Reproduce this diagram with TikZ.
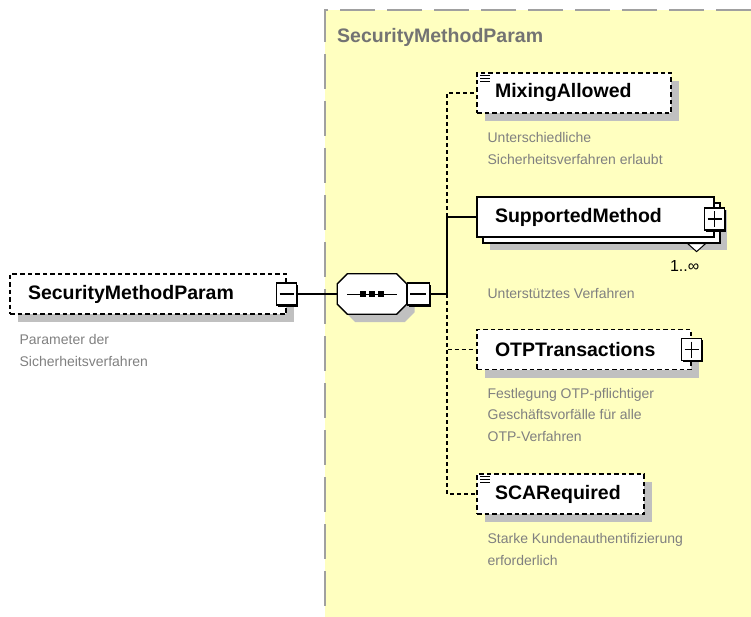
\documentclass[tikz,border=0pt]{standalone}
\usepackage{fontspec}
\setmainfont{Liberation Sans}
\usetikzlibrary{positioning,calc,shadows}
\definecolor{cY}{HTML}{FFFFC0}
\definecolor{cS}{HTML}{C0C0C0}
\definecolor{cG}{HTML}{808080}
\definecolor{cL}{HTML}{A0A0A0}
\tikzset{
  shade8/.style={drop shadow={fill=cS,opacity=1,shadow xshift=8pt,shadow yshift=-8pt}},
  elembase/.style={draw=black,line width=1.2pt,fill=white,minimum height=40pt,
    inner xsep=18pt,inner ysep=0pt,align=left,font=\fontsize{19.5}{22}\selectfont\bfseries},
  opt/.style={elembase,shade8,dash pattern=on 4.5pt off 3pt},
  req/.style={elembase,drop shadow={fill=cS,opacity=1,shadow xshift=13pt,shadow yshift=-13pt},
    copy shadow={shadow xshift=6pt,shadow yshift=-6pt,fill=white,draw=black,line width=1.2pt}},
  togbox/.style={draw=black,line width=1.2pt,fill=white,minimum width=20pt,minimum height=22pt,inner sep=0pt,
    general shadow={fill=black,shadow xshift=1.6pt,shadow yshift=-1.6pt}},
  minusbox/.style={togbox,path picture={
    \draw[line width=1.2pt] ([xshift=3pt]path picture bounding box.west) -- ([xshift=-3pt]path picture bounding box.east);}},
  plusbox/.style={togbox,path picture={
    \draw[line width=1.2pt] ([xshift=3pt]path picture bounding box.west) -- ([xshift=-3pt]path picture bounding box.east);
    \draw[line width=1.2pt] ([yshift=-3pt]path picture bounding box.north) -- ([yshift=3pt]path picture bounding box.south);}},
  seqbox/.style={minimum width=69pt,minimum height=40pt,inner sep=0pt},
  seqline/.style={draw=black,line width=1.3pt,fill=white,shade8},
  desc/.style={inner sep=0pt,align=left,text=cG,font=\fontsize{14}{21.5}\selectfont},
  grptitle/.style={inner sep=0pt,text=cG!90!black,font=\fontsize{19.5}{22}\selectfont\bfseries},
  grpline/.style={cL,line width=1.5pt,dash pattern=on 35pt off 12pt},
  conn/.style={black,line width=1.2pt},
  optconn/.style={conn,dash pattern=on 4pt off 3pt},
  mult/.style={inner sep=0pt,font=\fontsize{16}{18}\selectfont},
}

\begin{document}
\begin{tikzpicture}[x=1pt,y=-1pt]
  \useasboundingbox (0,0) rectangle (751,617);
  % group area
  \fill[cY] (325,10) rectangle (751,617);
  \draw[grpline] (751,10) -| (325,617);
  \node[grptitle,anchor=west] (title) at (337,37) {SecurityMethodParam};

  % root element
  \node[opt,text width=240pt] (root) at (148,294) {SecurityMethodParam};
  \node[minusbox] (rootTog) at (root.east) {};
  \node[desc,below right=20pt and 10pt of root.south west] (rootDesc) {Parameter der\\Sicherheitsverfahren};

  % sequence
  \node[seqbox] (seq) at (372,294) {};
  \draw[seqline] ([xshift=10pt]seq.north west) -- ([xshift=-10pt]seq.north east)
    -- ([yshift=-10pt]seq.north east) -- ([yshift=10pt]seq.south east)
    -- ([xshift=-10pt]seq.south east) -- ([xshift=10pt]seq.south west)
    -- ([yshift=10pt]seq.south west) -- ([yshift=-10pt]seq.north west) -- cycle;
  \node[minusbox,anchor=west,minimum width=22pt] (seqTog) at (seq.east) {};
  \draw[line width=1pt] ([xshift=10pt]seq.west) -- ([xshift=-10pt]seq.east);
  \foreach \dx in {-9pt,0pt,9pt}{
    \fill ([xshift=\dx]seq.center) +(-3pt,-3pt) rectangle +(3pt,3pt);
  }
  \coordinate (bus) at (447,294);

  % children
  \node[opt,text width=158pt] (mix) at (574,93) {MixingAllowed};
  \node[desc,below right=19pt and 11pt of mix.south west] (mixDesc) {Unterschiedliche\\Sicherheitsverfahren erlaubt};

  \node[req,text width=201pt] (sup) at (595.5,217) {SupportedMethod};
  \node[plusbox] (supTog) at ([yshift=-2pt]sup.east) {};
  \draw[line width=1pt,fill=white] ([xshift=-27pt,yshift=-6pt]sup.south east) -- ++(18pt,0pt) -- ++(-9pt,-8pt) -- cycle;
  \node[mult] (supMult) at ([xshift=-30pt,yshift=-28pt]sup.south east) {1..∞};
  \node[desc,below right=51pt and 11pt of sup.south west] (supDesc) {Unterstütztes Verfahren};

  \node[opt,text width=178pt] (otp) at (584,349.5) {OTPTransactions};
  \node[plusbox] (otpTog) at (otp.east) {};
  \node[desc,below right=18pt and 11pt of otp.south west] (otpDesc) {Festlegung OTP-pflichtiger\\Geschäftsvorfälle für alle\\OTP-Verfahren};

  \node[opt,text width=131pt] (sca) at (560.5,494) {SCARequired};
  \node[desc,below right=19pt and 11pt of sca.south west] (scaDesc) {Starke Kundenauthentifizierung\\erforderlich};

  % list marks of simple types
  \foreach \n in {mix,sca}{
    \foreach \dy in {3pt,6pt,9pt}{
      \draw[line width=0.8pt] ([xshift=4pt,yshift=-\dy]\n.north west) -- ++(10pt,0pt);
    }
  }

  % connectors
  \draw[conn] (rootTog.east) -- (seq.west);
  \draw[conn] (seqTog.east) -- (bus);
  \draw[optconn] (bus) |- (mix.west);
  \draw[optconn] (bus) |- (otp.west);
  \draw[optconn] (bus) |- (sca.west);
  \draw[conn] (bus) |- (sup.west);
\end{tikzpicture}
\end{document}
